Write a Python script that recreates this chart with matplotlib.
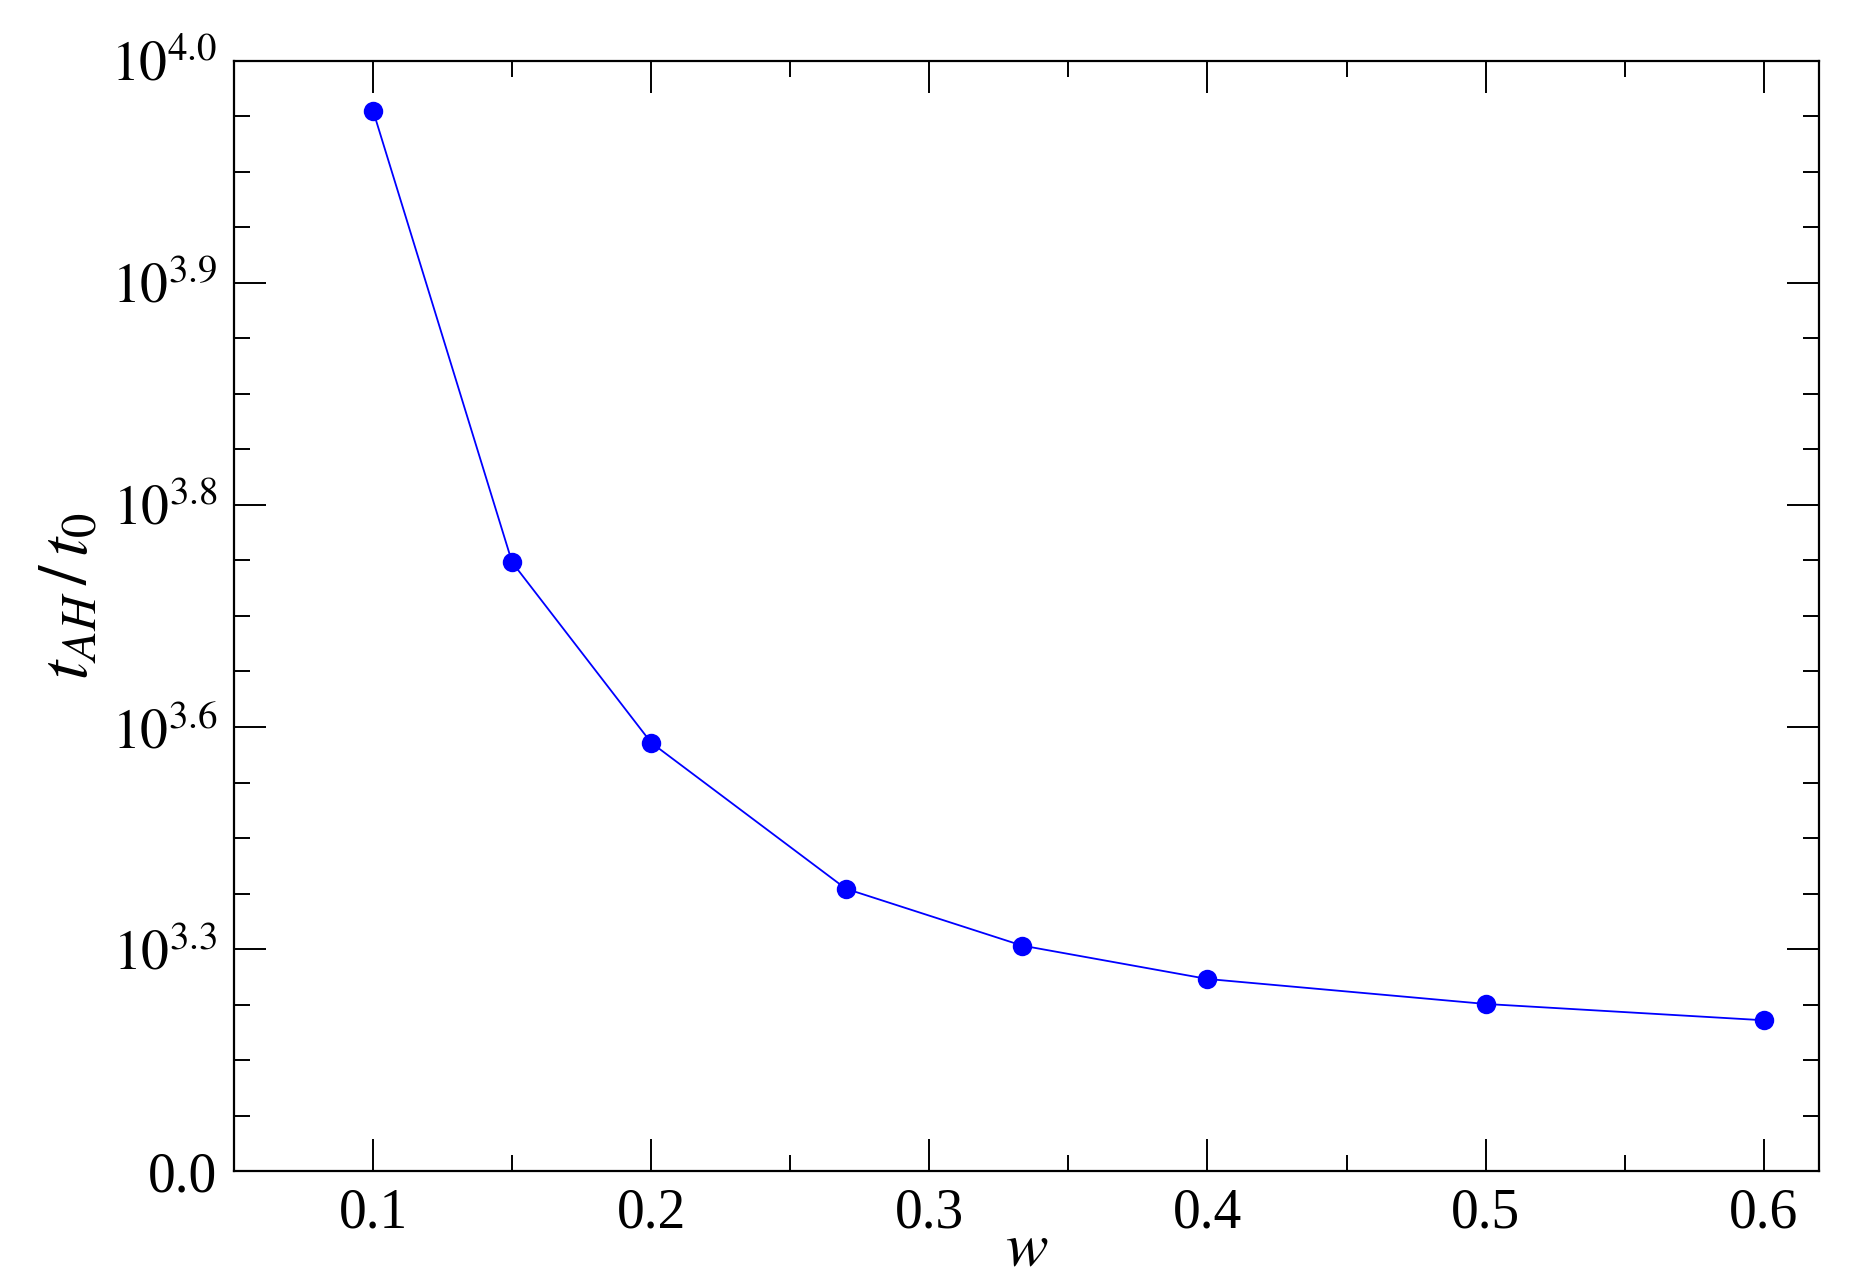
import matplotlib
matplotlib.use("Agg")
import matplotlib.pyplot as plt
from matplotlib.ticker import MultipleLocator

plt.rcParams['font.family'] = ['Liberation Serif', 'DejaVu Serif']
plt.rcParams['mathtext.fontset'] = 'stix'

w = [0.1, 0.15, 0.2, 0.27, 1/3, 0.4, 0.5, 0.6]
t_ah = [9553, 5484, 3859, 2543, 2031, 1730, 1505, 1358]

ytick_vals = [0, 2000, 4000, 6000, 8000, 10000]
ytick_labels = ['0.0', r'$10^{3.3}$', r'$10^{3.6}$', r'$10^{3.8}$', r'$10^{3.9}$', r'$10^{4.0}$']
xtick_vals = [0.1, 0.2, 0.3, 0.4, 0.5, 0.6]
xtick_labels = ['0.1', '0.2', '0.3', '0.4', '0.5', '0.6']

fig = plt.figure(figsize=(18.51, 12.84), dpi=100)
ax = fig.add_axes([0.1264, 0.0880, 0.9829 - 0.1264, 0.9525 - 0.0880])

ax.plot(w, t_ah, color='#0000ff', lw=1.3, marker='o', markersize=14, markeredgewidth=0)

ax.set_xlim(0.05, 0.62)
ax.set_ylim(0, 10000)
ax.set_xticks(xtick_vals)
ax.set_xticklabels(xtick_labels)
ax.set_yticks(ytick_vals)
ax.set_yticklabels(ytick_labels)
ax.xaxis.set_minor_locator(MultipleLocator(0.05))
ax.yaxis.set_minor_locator(MultipleLocator(500))

ax.tick_params(which='both', direction='in', top=True, right=True, width=1.4, labelsize=40)
ax.tick_params(which='major', length=23, pad=12)
ax.tick_params(which='minor', length=11.5)
for s in ax.spines.values():
    s.set_linewidth(1.6)

ax.set_xlabel(r'$w$', fontsize=46, va='center')
ax.xaxis.set_label_coords(0.5, -0.072)
ax.set_ylabel(r'$t_{AH}\,/\,t_0$', fontsize=50, va='center')
ax.yaxis.set_label_coords(-0.103, 0.518)

fig.savefig('out.png', dpi=100)
